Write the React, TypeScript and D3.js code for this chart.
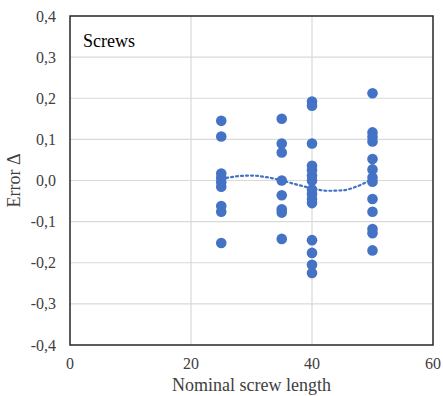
import React, { useEffect, useRef } from "react";
import * as d3 from "d3";

// measured errors per nominal screw length
const len25 = [0.145, 0.107, 0.017, 0.006, -0.004, -0.015, -0.062, -0.076, -0.152];
const len35 = [0.15, 0.09, 0.068, 0.0, -0.036, -0.07, -0.078, -0.142];
const len40 = [0.192, 0.182, 0.09, 0.036, 0.025, 0.012, 0.0, -0.022, -0.033, -0.045, -0.055, -0.145, -0.176, -0.205, -0.225];
const len50 = [0.212, 0.117, 0.106, 0.095, 0.052, 0.027, 0.007, -0.003, -0.045, -0.076, -0.118, -0.128, -0.17];
const lengths = [25, 35, 40, 50];

// dotted trend line
const trendX = [25, 27.5, 30, 32.5, 35, 37.5, 40, 42.5, 45, 47.5, 50];
const trendY = [0.004, 0.01, 0.012, 0.008, 0.0, -0.01, -0.019, -0.025, -0.024, -0.014, 0.004];

const xTicks = [0, 20, 40, 60];
const yTicks = [-0.4, -0.3, -0.2, -0.1, 0, 0.1, 0.2, 0.3, 0.4];

const App: React.FC = () => {
  const svgRef = useRef<SVGSVGElement | null>(null);

  useEffect(() => {
    if (!svgRef.current) return;
    const width = 443;
    const height = 396;
    const margin = { top: 16, right: 10, bottom: 51, left: 70 };
    const font = "'Liberation Serif', 'Times New Roman', serif";

    d3.select(svgRef.current).selectAll("*").remove();
    const svg = d3.select(svgRef.current).attr("width", width).attr("height", height);

    const x = d3.scaleLinear().domain([0, 60]).range([margin.left, width - margin.right]);
    const y = d3.scaleLinear().domain([-0.4, 0.4]).range([height - margin.bottom, margin.top]);

    svg.append("rect").attr("width", width).attr("height", height).attr("fill", "white");

    // gridlines
    svg
      .selectAll(".hgrid")
      .data(yTicks.slice(1, -1))
      .enter()
      .append("line")
      .attr("x1", margin.left)
      .attr("x2", width - margin.right)
      .attr("y1", (d) => y(d))
      .attr("y2", (d) => y(d))
      .attr("stroke", "#d9d9d9")
      .attr("stroke-width", 1.2);
    svg
      .selectAll(".vgrid")
      .data(xTicks.slice(1, -1))
      .enter()
      .append("line")
      .attr("x1", (d) => x(d))
      .attr("x2", (d) => x(d))
      .attr("y1", margin.top)
      .attr("y2", height - margin.bottom)
      .attr("stroke", "#d9d9d9")
      .attr("stroke-width", 1.2);

    // frame
    svg
      .append("rect")
      .attr("x", margin.left)
      .attr("y", margin.top)
      .attr("width", width - margin.right - margin.left)
      .attr("height", height - margin.bottom - margin.top)
      .attr("fill", "none")
      .attr("stroke", "#262626")
      .attr("stroke-width", 1.5);

    // trend
    const line = d3
      .line<number>()
      .x((_, i) => x(trendX[i]))
      .y((d) => y(d))
      .curve(d3.curveMonotoneX);
    svg
      .append("path")
      .attr("d", line(trendY)!)
      .attr("fill", "none")
      .attr("stroke", "#4472c4")
      .attr("stroke-width", 2.2)
      .attr("stroke-dasharray", "2,3")
      .attr("stroke-linecap", "round");

    // points
    const pts: [number, number][] = [];
    [len25, len35, len40, len50].forEach((arr, i) => arr.forEach((v) => pts.push([lengths[i], v])));
    svg
      .selectAll(".pt")
      .data(pts)
      .enter()
      .append("circle")
      .attr("cx", (d) => x(d[0]))
      .attr("cy", (d) => y(d[1]))
      .attr("r", 5.3)
      .attr("fill", "#4472c4");

    // tick labels
    svg
      .selectAll(".yl")
      .data(yTicks)
      .enter()
      .append("text")
      .attr("x", margin.left - 14)
      .attr("y", (d) => y(d) + 5.5)
      .attr("text-anchor", "end")
      .style("font-family", font)
      .style("font-size", "16px")
      .attr("fill", "#404040")
      .text((d) => d3.format(".1f")(d).replace(".", ",").replace("−", "-"));
    svg
      .selectAll(".xl")
      .data(xTicks)
      .enter()
      .append("text")
      .attr("x", (d) => x(d))
      .attr("y", height - margin.bottom + 24)
      .attr("text-anchor", "middle")
      .style("font-family", font)
      .style("font-size", "16px")
      .attr("fill", "#404040")
      .text((d) => String(d));

    // titles
    svg
      .append("text")
      .attr("x", (margin.left + width - margin.right) / 2)
      .attr("y", height - 5)
      .attr("text-anchor", "middle")
      .style("font-family", font)
      .style("font-size", "18px")
      .attr("fill", "#404040")
      .text("Nominal screw length");
    svg
      .append("text")
      .attr("transform", `translate(20, ${y(0)}) rotate(-90)`)
      .attr("text-anchor", "middle")
      .style("font-family", font)
      .style("font-size", "18px")
      .attr("fill", "#404040")
      .text("Error Δ");
    svg
      .append("text")
      .attr("x", margin.left + 13)
      .attr("y", margin.top + 31)
      .style("font-family", font)
      .style("font-size", "18px")
      .attr("fill", "#000")
      .text("Screws");
  }, []);

  return <svg ref={svgRef} style={{ position: "absolute", left: 0, top: 0 }}></svg>;
};

export default App;
